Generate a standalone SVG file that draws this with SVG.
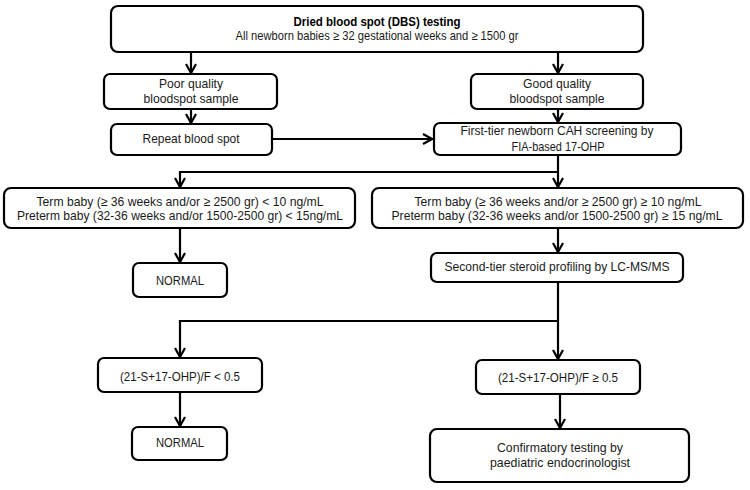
<svg xmlns="http://www.w3.org/2000/svg" width="750" height="490" viewBox="0 0 750 490">
<style>
.box{fill:#fff;stroke:#000;stroke-width:2.2}
.t{font-family:"Liberation Sans",Arial,sans-serif;font-size:13px;fill:#1a1a1a;text-anchor:middle}
.b{font-weight:bold;fill:#000}
.c{fill:none;stroke:#000;stroke-width:2.2}
</style>
<defs>
<marker id="ah" viewBox="0 0 12 12" refX="10" refY="6" markerWidth="12" markerHeight="12" markerUnits="userSpaceOnUse" orient="auto">
<path d="M1,1 L10,6 L1,11" fill="none" stroke="#000" stroke-width="2.2"/>
</marker>
</defs>
<rect width="750" height="490" fill="#fff"/>
<g id="connectors">
<path class="c" d="M191,52 V73" marker-end="url(#ah)"/>
<path class="c" d="M558,52 V73" marker-end="url(#ah)"/>
<path class="c" d="M191,109 V123" marker-end="url(#ah)"/>
<path class="c" d="M558,109 V122" marker-end="url(#ah)"/>
<path class="c" d="M272,139 H432" marker-end="url(#ah)"/>
<path class="c" d="M558,155 V187" marker-end="url(#ah)"/>
<path class="c" d="M558,172 H180 V187" marker-end="url(#ah)"/>
<path class="c" d="M180,228 V262" marker-end="url(#ah)"/>
<path class="c" d="M558,228 V252" marker-end="url(#ah)"/>
<path class="c" d="M558,282 V359" marker-end="url(#ah)"/>
<path class="c" d="M558,321 H180 V357" marker-end="url(#ah)"/>
<path class="c" d="M180,392 V426" marker-end="url(#ah)"/>
<path class="c" d="M560,394 V428" marker-end="url(#ah)"/>
</g>
<g id="dbs">
<rect class="box" x="111" y="6" width="532" height="46" rx="7"/>
<text class="t b" x="377" y="26" textLength="167" lengthAdjust="spacingAndGlyphs">Dried blood spot (DBS) testing</text>
<text class="t" x="377" y="40" textLength="283" lengthAdjust="spacingAndGlyphs">All newborn babies ≥ 32 gestational weeks and  ≥ 1500 gr</text>
</g>
<g id="poor">
<rect class="box" x="104" y="74" width="173" height="35" rx="6"/>
<text class="t" x="191" y="88" textLength="64" lengthAdjust="spacingAndGlyphs">Poor quality</text>
<text class="t" x="191" y="103" textLength="95" lengthAdjust="spacingAndGlyphs">bloodspot sample</text>
</g>
<g id="good">
<rect class="box" x="471" y="74" width="172" height="35" rx="6"/>
<text class="t" x="557" y="88" textLength="68" lengthAdjust="spacingAndGlyphs">Good quality</text>
<text class="t" x="557" y="103" textLength="95" lengthAdjust="spacingAndGlyphs">bloodspot sample</text>
</g>
<g id="repeat">
<rect class="box" x="111" y="124" width="161" height="31" rx="6"/>
<text class="t" x="191" y="143" textLength="97" lengthAdjust="spacingAndGlyphs">Repeat blood spot</text>
</g>
<g id="firsttier">
<rect class="box" x="434" y="123" width="247" height="32" rx="6"/>
<text class="t" x="557" y="135" textLength="193" lengthAdjust="spacingAndGlyphs">First-tier newborn CAH screening by</text>
<text class="t" x="558" y="151" textLength="93" lengthAdjust="spacingAndGlyphs">FIA-based 17-OHP</text>
</g>
<g id="term-low">
<rect class="box" x="4" y="188" width="351" height="40" rx="7"/>
<text class="t" x="180" y="206" textLength="287" lengthAdjust="spacingAndGlyphs">Term baby (≥ 36 weeks and/or  ≥ 2500 gr) &lt; 10 ng/mL</text>
<text class="t" x="180" y="220" textLength="326" lengthAdjust="spacingAndGlyphs">Preterm baby (32-36 weeks and/or 1500-2500 gr) &lt; 15ng/mL</text>
</g>
<g id="term-high">
<rect class="box" x="372" y="188" width="371" height="40" rx="7"/>
<text class="t" x="558" y="206" textLength="287" lengthAdjust="spacingAndGlyphs">Term baby (≥ 36 weeks and/or ≥ 2500 gr) ≥ 10 ng/mL</text>
<text class="t" x="557" y="220" textLength="331" lengthAdjust="spacingAndGlyphs">Preterm baby (32-36 weeks and/or 1500-2500 gr) ≥ 15 ng/mL</text>
</g>
<g id="normal1">
<rect class="box" x="133" y="263" width="94" height="34" rx="6"/>
<text class="t" x="180" y="285" textLength="48" lengthAdjust="spacingAndGlyphs">NORMAL</text>
</g>
<g id="secondtier">
<rect class="box" x="431" y="253" width="252" height="29" rx="6"/>
<text class="t" x="557" y="271" textLength="225" lengthAdjust="spacingAndGlyphs">Second-tier steroid profiling by LC-MS/MS</text>
</g>
<g id="ratio-low">
<rect class="box" x="98" y="358" width="164" height="34" rx="6"/>
<text class="t" x="180" y="381" textLength="120" lengthAdjust="spacingAndGlyphs">(21-S+17-OHP)/F &lt; 0.5</text>
</g>
<g id="ratio-high">
<rect class="box" x="476" y="360" width="164" height="34" rx="6"/>
<text class="t" x="558" y="382" textLength="120" lengthAdjust="spacingAndGlyphs">(21-S+17-OHP)/F ≥ 0.5</text>
</g>
<g id="normal2">
<rect class="box" x="132" y="427" width="95" height="33" rx="6"/>
<text class="t" x="180" y="447" textLength="48" lengthAdjust="spacingAndGlyphs">NORMAL</text>
</g>
<g id="confirm">
<rect class="box" x="430" y="429" width="259" height="53" rx="7"/>
<text class="t" x="560" y="452" textLength="126" lengthAdjust="spacingAndGlyphs">Confirmatory testing by</text>
<text class="t" x="560" y="467" textLength="140" lengthAdjust="spacingAndGlyphs">paediatric endocrinologist</text>
</g>
</svg>
